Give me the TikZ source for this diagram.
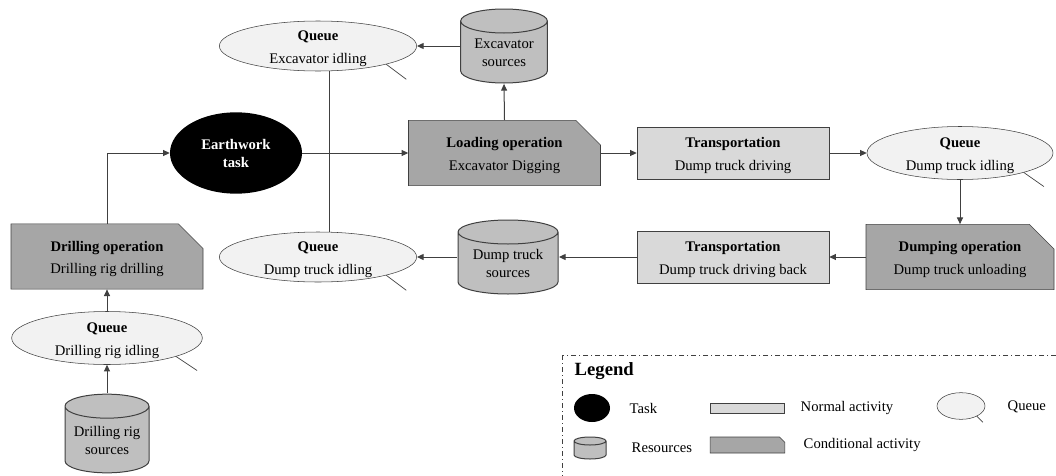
\documentclass[tikz,border=0pt]{standalone}
\usepackage{fontspec}
\setmainfont{Liberation Serif}
\usepackage{tikz}
\usetikzlibrary{shapes.geometric,shapes.misc,arrows.meta,calc}

\definecolor{condgray}{HTML}{A6A6A6}
\definecolor{normgray}{HTML}{D9D9D9}
\definecolor{queuegray}{HTML}{F2F2F2}
\definecolor{srcgray}{HTML}{BFBFBF}
\definecolor{linegray}{HTML}{404040}

\begin{document}
\begin{tikzpicture}[x=0.75pt,y=-0.75pt,
  font=\fontsize{11}{17}\selectfont,
  conn/.style={draw=linegray,line width=0.75pt},
  arr/.style={conn,-{Triangle[length=5pt,width=4.5pt]}},
  normact/.style={rectangle,draw=linegray,fill=normgray,minimum width=144pt,minimum height=39pt,align=center,inner sep=0pt,text height=28.5pt},
  condact/.style={chamfered rectangle,chamfered rectangle corners=north east,chamfered rectangle xsep=9.5pt,chamfered rectangle ysep=9pt,draw=linegray,fill=condgray,minimum width=144pt,minimum height=39pt,align=center,inner sep=0pt,text height=28.5pt},
  queue/.style={ellipse,draw=linegray,fill=queuegray,inner xsep=0pt,inner ysep=-4pt,align=center,text height=28.5pt},
  srccap/.store in=\srccap, srccap=9pt,
  source/.style={rectangle,fill=white,inner sep=0pt,align=center,font=\fontsize{11}{13.5}\selectfont,text height=31pt,
    path picture={
      \path let \p1=(path picture bounding box.south west), \p2=(path picture bounding box.north east),
        \n1={(\x2-\x1)/2-0.5pt} in
        [draw=linegray,fill=srcgray,line width=0.75pt]
        (\x1+0.5pt,\y2-\srccap-0.5pt) -- (\x1+0.5pt,\y1+\srccap+0.5pt)
        arc[start angle=180,end angle=360,x radius=\n1,y radius=\srccap]
        -- (\x2-0.5pt,\y2-\srccap-0.5pt)
        arc[start angle=0,end angle=180,x radius=\n1,y radius=\srccap] -- cycle
        (\x1+0.5pt,\y2-\srccap-0.5pt)
        arc[start angle=180,end angle=360,x radius=\n1,y radius=\srccap];
    }},
  task/.style={ellipse,fill=black,text=white,align=center,font=\fontsize{11}{13.5}\selectfont\bfseries},
  qtail/.style={draw=linegray,line width=0.5pt},
  legendframe/.style={draw=linegray,line width=0.5pt,dash pattern=on 4pt off 2pt on 1pt off 2pt}
]
\useasboundingbox (0,0) rectangle (1056,475);

% upper row
\node[queue,minimum width=148pt,minimum height=37.5pt] (qexc) at (318,46) {\textbf{Queue}\\Excavator idling};
\node[source,minimum width=66pt,minimum height=56.5pt] (excsrc) at (504,46) {Excavator\\sources};
\node[task,minimum width=99pt,minimum height=61pt] (task) at (236,153) {Earthwork\\task};
\node[condact] (loadop) at (504.5,153) {\textbf{Loading operation}\\Excavator Digging};
\node[normact] (trans) at (733,153) {\textbf{Transportation}\\Dump truck driving};
\node[queue,minimum width=139.5pt,minimum height=39.75pt] (qtruck) at (960,153) {\textbf{Queue}\\Dump truck idling};

% lower row
\node[condact,minimum width=141pt] (dumpop) at (960,257) {\textbf{Dumping operation}\\Dump truck unloading};
\node[normact] (transback) at (733,257) {\textbf{Transportation}\\Dump truck driving back};
\node[source,minimum width=76pt,minimum height=56.5pt] (dtsrc) at (508,257) {Dump truck\\sources};
\node[queue,minimum width=148pt,minimum height=37.5pt] (qdump) at (318,257) {\textbf{Queue}\\Dump truck idling};

% drilling
\node[condact] (drillop) at (107,256.5) {\textbf{Drilling operation}\\Drilling rig drilling};
\node[queue,minimum width=143pt,minimum height=39.75pt] (qdrill) at (107,338) {\textbf{Queue}\\Drilling rig idling};
\node[source,minimum width=64pt,minimum height=60pt] (drsrc) at (107,433.5) {Drilling rig\\sources};

% queue tails
\draw[qtail] (qexc.-15) -- ++(20,15);
\draw[qtail] (qdump.-15) -- ++(20,15);
\draw[qtail] (qtruck.-17) -- ++(20,14);
\draw[qtail] (qdrill.-15) -- ++(21,14);

% links
\draw[arr] (drillop.north) |- (task.west);
\draw[arr] (task.east) -- (loadop.west);
\draw[arr] (loadop.north) -- (excsrc.south);
\draw[arr] (excsrc.west) -- (qexc.east);
\draw[conn] ([xshift=8.25pt]qexc.south) -- ([xshift=8.25pt]qdump.north);
\draw[arr] (loadop.east) -- (trans.west);
\draw[arr] (trans.east) -- (qtruck.west);
\draw[arr] (qtruck.south) -- (dumpop.north);
\draw[arr] (dumpop.west) -- (transback.east);
\draw[arr] (transback.west) -- (dtsrc.east);
\draw[arr] (dtsrc.west) -- (qdump.east);
\draw[arr] (qdrill.north) -- (drillop.south);
\draw[arr] (drsrc.north) -- (qdrill.south);

% legend
\draw[legendframe] (562,355) rectangle (1090,500);
\node[anchor=west,font=\fontsize{14}{16}\selectfont\bfseries] (legtitle) at (570,371) {Legend};
\node[task,minimum width=27pt,minimum height=21pt] (legtask) at (592,408) {};
\node[anchor=west] (legtasktxt) at (625,408) {Task};
\node[normact,minimum width=55.5pt,minimum height=7.5pt,text height=0pt] (legnorm) at (747,408) {};
\node[anchor=west] (legnormtxt) at (796,408) {Normal activity};
\node[queue,minimum width=36pt,minimum height=20pt,text height=0pt] (legqueue) at (961,406) {};
\draw[qtail] (legqueue.-33) -- ++(6,6);
\node[anchor=west] (legqueuetxt) at (1003,407) {Queue};
\node[source,srccap=3pt,minimum width=25pt,minimum height=17.5pt,text height=0pt] (legsrc) at (590,448) {};
\node[anchor=west] (legsrctxt) at (627,448) {Resources};
\node[condact,minimum width=56pt,minimum height=12pt,text height=0pt,inner sep=2pt,chamfered rectangle xsep=3pt,chamfered rectangle ysep=3pt] (legcond) at (747.5,445) {};
\node[anchor=west] (legcondtxt) at (799,445) {Conditional activity};
\end{tikzpicture}
\end{document}
